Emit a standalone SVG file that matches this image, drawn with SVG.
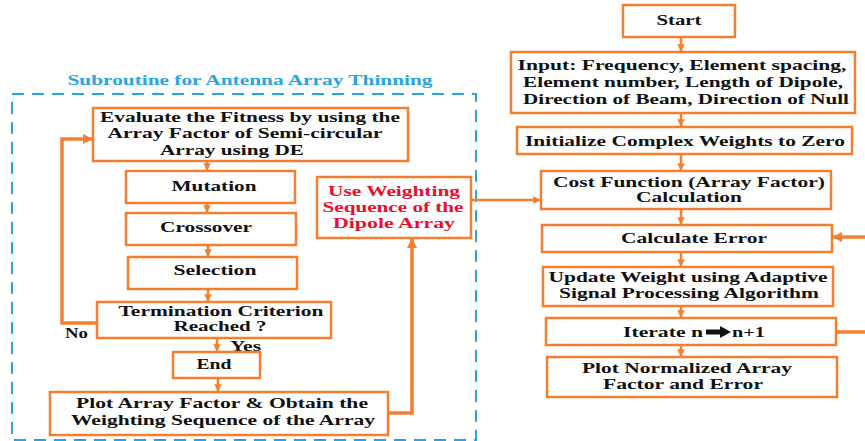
<svg xmlns="http://www.w3.org/2000/svg" width="865" height="441" viewBox="0 0 865 441">
<style>
.b{fill:#fff;stroke:#f47f2f;stroke-width:2.5}
.t{font-family:"Liberation Serif","Times New Roman",serif;font-weight:bold;font-size:15px;fill:#111;text-anchor:middle}
.r{fill:#e8102a}
.c{fill:none;stroke:#f47f2f;stroke-width:2.5}
.k{fill:none;stroke:#f47f2f;stroke-width:3.5}
</style>
<defs>
<marker id="a" viewBox="0 0 10 10" refX="9" refY="5" markerWidth="3" markerHeight="3" orient="auto" markerUnits="strokeWidth">
<path d="M0,0L10,5L0,10z" fill="#f47f2f"/>
</marker>
</defs>
<text x="250" y="85" class="t" style="fill:#29a6e0;font-size:15px" textLength="365" lengthAdjust="spacingAndGlyphs">Subroutine for Antenna Array Thinning</text>
<rect x="12" y="94" width="464" height="346" fill="none" stroke="#29a6e0" stroke-width="2" stroke-dasharray="12,8"/>
<g id="connectors">
<line class="c" x1="681" y1="37" x2="681" y2="51" marker-end="url(#a)"/>
<line class="c" x1="681" y1="113" x2="681" y2="126" marker-end="url(#a)"/>
<line class="c" x1="681" y1="154" x2="681" y2="170" marker-end="url(#a)"/>
<line class="c" x1="681" y1="209" x2="681" y2="224" marker-end="url(#a)"/>
<line class="c" x1="681" y1="252" x2="681" y2="266" marker-end="url(#a)"/>
<line class="c" x1="681" y1="306" x2="681" y2="317" marker-end="url(#a)"/>
<line class="c" x1="681" y1="345" x2="681" y2="356" marker-end="url(#a)"/>
<line class="k" x1="836" y1="332" x2="865" y2="332"/>
<line class="k" x1="865" y1="237" x2="833" y2="237" marker-end="url(#a)"/>
<line class="c" x1="471" y1="200" x2="540" y2="200" marker-end="url(#a)"/>
<line class="c" x1="207" y1="161" x2="207" y2="170" marker-end="url(#a)"/>
<line class="c" x1="207" y1="203" x2="207" y2="212" marker-end="url(#a)"/>
<line class="c" x1="208" y1="245" x2="208" y2="256" marker-end="url(#a)"/>
<line class="c" x1="208" y1="289" x2="208" y2="301" marker-end="url(#a)"/>
<line class="c" x1="217" y1="338" x2="217" y2="351" marker-end="url(#a)"/>
<line class="c" x1="218" y1="378" x2="218" y2="391" marker-end="url(#a)"/>
<polyline class="k" points="97,323 62,323 62,139 92,139" marker-end="url(#a)"/>
<polyline class="k" points="388,413 412,413 412,239" marker-end="url(#a)"/>
</g>
<g id="start"><rect class="b" x="623" y="5" width="112" height="32"/><text class="t" x="679" y="25" textLength="45" lengthAdjust="spacingAndGlyphs">Start</text></g>
<g id="input"><rect class="b" x="511" y="52" width="344" height="61"/>
<text class="t" x="682" y="70" textLength="329" lengthAdjust="spacingAndGlyphs">Input: Frequency, Element spacing,</text>
<text class="t" x="683" y="87" textLength="320" lengthAdjust="spacingAndGlyphs">Element number, Length of Dipole,</text>
<text class="t" x="686" y="104" textLength="326" lengthAdjust="spacingAndGlyphs">Direction of Beam, Direction of Null</text></g>
<g id="init"><rect class="b" x="517" y="127" width="335" height="27"/><text class="t" x="685" y="146" textLength="320" lengthAdjust="spacingAndGlyphs">Initialize Complex Weights to Zero</text></g>
<g id="cost"><rect class="b" x="541" y="171" width="290" height="38"/>
<text class="t" x="689" y="187" textLength="272" lengthAdjust="spacingAndGlyphs">Cost Function (Array Factor)</text>
<text class="t" x="689" y="202" textLength="106" lengthAdjust="spacingAndGlyphs">Calculation</text></g>
<g id="calcerr"><rect class="b" x="542" y="225" width="290" height="27"/><text class="t" x="694" y="243" textLength="146" lengthAdjust="spacingAndGlyphs">Calculate Error</text></g>
<g id="update"><rect class="b" x="543" y="267" width="290" height="39"/>
<text class="t" x="688" y="282" textLength="279" lengthAdjust="spacingAndGlyphs">Update Weight using Adaptive</text>
<text class="t" x="689" y="298" textLength="260" lengthAdjust="spacingAndGlyphs">Signal Processing Algorithm</text></g>
<g id="iterate"><rect class="b" x="546" y="318" width="290" height="27"/>
<text class="t" x="663" y="337" textLength="80" lengthAdjust="spacingAndGlyphs">Iterate n</text>
<path d="M706,329.5h14v-3.5l11,6l-11,6v-3.5h-14z" fill="#111"/>
<text class="t" x="748.5" y="337" textLength="33" lengthAdjust="spacingAndGlyphs">n+1</text></g>
<g id="plotnorm"><rect class="b" x="547" y="357" width="290" height="40"/>
<text class="t" x="687" y="373" textLength="210" lengthAdjust="spacingAndGlyphs">Plot Normalized Array</text>
<text class="t" x="683" y="389" textLength="160" lengthAdjust="spacingAndGlyphs">Factor and Error</text></g>
<g id="evaluate"><rect class="b" x="93" y="108" width="315" height="53"/>
<text class="t" x="250" y="122" textLength="300" lengthAdjust="spacingAndGlyphs">Evaluate the Fitness by using the</text>
<text class="t" x="245" y="138" textLength="275" lengthAdjust="spacingAndGlyphs">Array Factor of Semi-circular</text>
<text class="t" x="232" y="155" textLength="144" lengthAdjust="spacingAndGlyphs">Array using DE</text></g>
<g id="mutation"><rect class="b" x="126" y="171" width="169" height="32"/><text class="t" x="214" y="191" textLength="85" lengthAdjust="spacingAndGlyphs">Mutation</text></g>
<g id="crossover"><rect class="b" x="126" y="213" width="170" height="32"/><text class="t" x="206" y="232" textLength="92" lengthAdjust="spacingAndGlyphs">Crossover</text></g>
<g id="selection"><rect class="b" x="128" y="257" width="169" height="32"/><text class="t" x="215" y="275" textLength="83" lengthAdjust="spacingAndGlyphs">Selection</text></g>
<g id="termination"><rect class="b" x="97" y="302" width="234" height="36"/>
<text class="t" x="221" y="316" textLength="205" lengthAdjust="spacingAndGlyphs">Termination Criterion</text>
<text class="t" x="220" y="331" textLength="93" lengthAdjust="spacingAndGlyphs">Reached ?</text></g>
<text class="t" x="76.5" y="338" textLength="23" lengthAdjust="spacingAndGlyphs">No</text>
<text class="t" x="245.5" y="351" textLength="31" lengthAdjust="spacingAndGlyphs">Yes</text>
<g id="end"><rect class="b" x="173" y="352" width="87" height="26"/><text class="t" x="214" y="369" textLength="35" lengthAdjust="spacingAndGlyphs">End</text></g>
<g id="plot"><rect class="b" x="50" y="392" width="338" height="43"/>
<text class="t" x="222" y="408" textLength="292" lengthAdjust="spacingAndGlyphs">Plot Array Factor &amp; Obtain the</text>
<text class="t" x="223" y="425" textLength="304" lengthAdjust="spacingAndGlyphs">Weighting Sequence of the Array</text></g>
<g id="useweight"><rect class="b" x="317" y="177" width="154" height="61"/>
<text class="t r" x="394" y="196" textLength="132" lengthAdjust="spacingAndGlyphs">Use Weighting</text>
<text class="t r" x="393" y="212" textLength="141" lengthAdjust="spacingAndGlyphs">Sequence of the</text>
<text class="t r" x="394" y="228" textLength="122" lengthAdjust="spacingAndGlyphs">Dipole Array</text></g>
</svg>
